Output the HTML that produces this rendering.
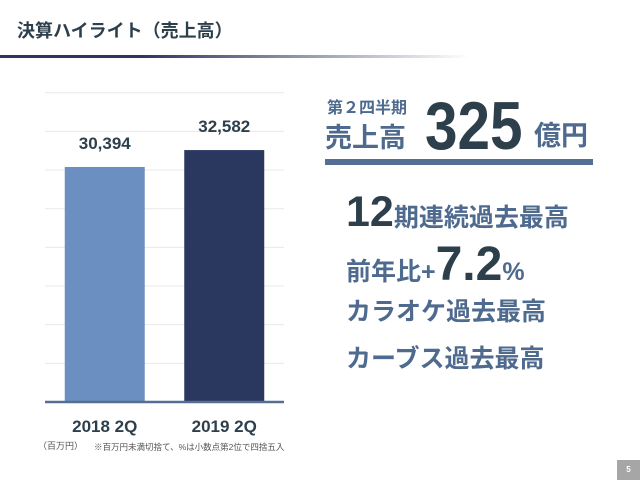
<!DOCTYPE html>
<html><head><meta charset="utf-8"><style>
body{margin:0;width:640px;height:480px;background:#fff;position:relative;overflow:hidden;font-family:"Liberation Sans","Noto Sans CJK JP",sans-serif;}
.a{position:absolute;white-space:nowrap;line-height:1;}
</style></head><body>
<div class="a" style="left:17px;top:22px;font-size:18px;font-weight:bold;color:#2e3f4c;">決算ハイライト（売上高）</div>
<div class="a" style="left:0;top:55px;width:470px;height:3px;background:linear-gradient(to right,#2a375e 0%,#2a375e 30%,rgba(42,55,94,0) 100%);"></div>

<svg class="a" style="left:0;top:0" width="320" height="480"></svg>

<div class="a" style="left:327px;top:101px;font-size:16px;font-weight:bold;color:#4e6a8e;">第２四半期</div>
<div class="a" style="left:325px;top:125px;font-size:27px;font-weight:bold;color:#4e6a8e;">売上高</div>
<div class="a" style="left:425px;top:92px;font-size:68px;font-weight:bold;color:#2e3f4c;transform:scaleX(0.86);transform-origin:left top;">325</div>
<div class="a" style="left:534px;top:123px;font-size:27px;font-weight:bold;color:#4e6a8e;">億円</div>
<div class="a" style="left:325px;top:159px;width:268px;height:6px;background:#546f93;"></div>

<div class="a" style="left:346px;top:191px;color:#4e6a8e;font-weight:bold;"><span style="font-size:43px;color:#2e3f4c;">12</span><span style="font-size:25px;">期連続過去最高</span></div>
<div class="a" style="left:346px;top:241px;color:#4e6a8e;font-weight:bold;"><span style="font-size:25px;">前年比+</span><span style="font-size:48px;color:#2e3f4c;">7.2</span><span style="font-size:25px;">%</span></div>
<div class="a" style="left:346px;top:300px;font-size:25px;font-weight:bold;color:#4e6a8e;">カラオケ過去最高</div>
<div class="a" style="left:346px;top:347px;font-size:25px;font-weight:bold;color:#4e6a8e;">カーブス過去最高</div>

<div class="a" style="left:38px;top:442px;font-size:9px;color:#555;">（百万円）</div>
<div class="a" style="left:94px;top:443px;font-size:8.5px;color:#555;">※百万円未満切捨て、%は小数点第2位で四捨五入</div>
<div class="a" style="left:617px;top:460px;width:23px;height:20px;background:#a6a6a6;color:#fff;font-size:8px;font-weight:bold;text-align:center;line-height:20px;">5</div>

<script>
const categories=["2018 2Q","2019 2Q"];
const values=[30394,32582];
const valueLabels=["30,394","32,582"];
const barColors=["#6a8fc0","#2a375e"];
const gridMax=40000, gridStep=5000;
const NS="http://www.w3.org/2000/svg";
const svg=document.querySelector('svg');
const x0=45,x1=284,yBase=402,yTop=92.7;
const y=v=>yBase-(v/gridMax)*(yBase-yTop);
const band=(x1-x0)/categories.length;
const bw=80;
function mk(t,a){const e=document.createElementNS(NS,t);for(const k in a)e.setAttribute(k,a[k]);svg.appendChild(e);return e;}
for(let v=gridStep;v<=gridMax;v+=gridStep){
  const l=mk('line',{x1:x0,x2:x1,y1:y(v),y2:y(v),stroke:'#e8e8e8','stroke-width':1});
  
  
}
categories.forEach((c,i)=>{
  const cx=x0+band*(i+0.5);
  const r=mk('rect',{x:cx-bw/2,y:y(values[i]),width:bw,height:yBase-y(values[i]),fill:barColors[i]});
  
  
  const t=mk('text',{x:cx,y:y(values[i])-18,'text-anchor':'middle','font-size':17,'font-weight':'bold',fill:'#2e3f4c','font-family':'Liberation Sans, sans-serif'});
  t.textContent=valueLabels[i];
  
  
  const xl=mk('text',{x:cx,y:432,'text-anchor':'middle','font-size':17,'font-weight':'bold',fill:'#2e3f4c','font-family':'Liberation Sans, sans-serif'});
  xl.textContent=c;
  
  
});
const ax=mk('line',{x1:x0,x2:x1,y1:yBase,y2:yBase,stroke:'#546f93','stroke-width':2.5});


</script>
</body></html>
